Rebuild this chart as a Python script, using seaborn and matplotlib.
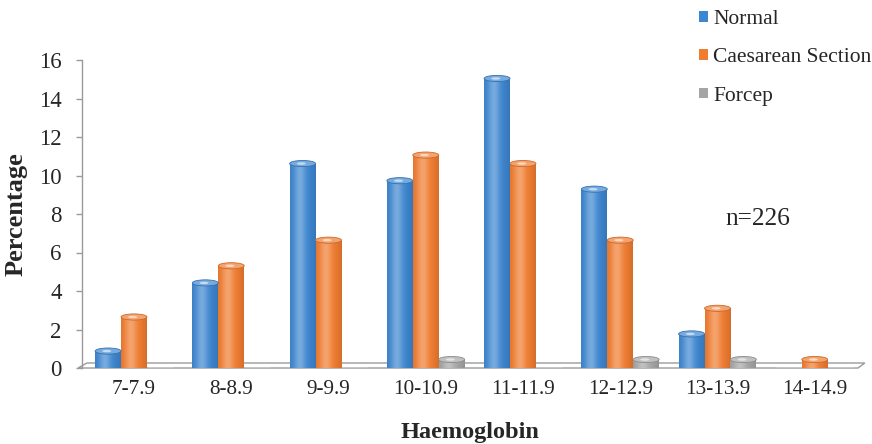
import numpy as np
import pandas as pd
import matplotlib
matplotlib.use("Agg")
import matplotlib.pyplot as plt
import matplotlib.colors as mcolors
from matplotlib.patches import Ellipse, Polygon, Patch
import seaborn as sns

# Haemoglobin bands and percentage of deliveries per mode (n=226)
categories = ["7-7.9", "8-8.9", "9-9.9", "10-10.9", "11-11.9", "12-12.9", "13-13.9", "14-14.9"]
normal = [0.88, 4.42, 10.62, 9.73, 15.04, 9.29, 1.77, 0.0]
caesarean = [2.65, 5.31, 6.64, 11.06, 10.62, 6.64, 3.10, 0.44]
forcep = [0.0, 0.0, 0.0, 0.44, 0.0, 0.44, 0.44, 0.0]
series_names = ["Normal", "Caesarean Section", "Forcep"]
yticks = [0, 2, 4, 6, 8, 10, 12, 14, 16]

colors = {"Normal": "#3d86d0", "Caesarean Section": "#f07c30", "Forcep": "#a5a5a5"}

df = pd.DataFrame({
    "Haemoglobin": categories * 3,
    "Percentage": normal + caesarean + forcep,
    "Mode": [s for s in series_names for _ in categories],
})

sns.set_style("white")
plt.rcParams["font.family"] = ["Liberation Serif", "DejaVu Serif"]

W, H = 872, 444
fig = plt.figure(figsize=(W / 100, H / 100), dpi=100)
ax = fig.add_axes([82 / W, 1 - 368 / H, 776 / W, 308 / H])

sns.barplot(data=df, x="Haemoglobin", y="Percentage", hue="Mode",
            hue_order=series_names, palette=colors, order=categories,
            width=0.8, saturation=1, ax=ax, legend=False, zorder=3)

ax.set_xlim(-0.535, 7.445)
ax.set_ylim(0, 16)

# cylinder-like shading on each bar
def shade(c):
    rgb = np.array(mcolors.to_rgb(c))
    xs = np.linspace(0, 1, 64)
    light = np.exp(-((xs - 0.38) / 0.22) ** 2) * 0.3
    dark = (np.abs(xs - 0.42) ** 2.5) * 0.9
    cols = [np.clip(rgb + (1 - rgb) * l - rgb * d * 0.5, 0, 1) for l, d in zip(light, dark)]
    return np.array(cols)[None, :, :]

cap_h = 0.32
for patch in list(ax.patches):
    h = patch.get_height()
    if h <= 0.01:
        continue
    x0 = patch.get_x()
    w = patch.get_width()
    fc = mcolors.to_hex(patch.get_facecolor())
    patch.set_edgecolor("none")
    img = ax.imshow(shade(fc), extent=[x0, x0 + w, 0, h], aspect="auto",
                    zorder=3.5, interpolation="bilinear")
    img.set_clip_path(patch)
    rgb = np.array(mcolors.to_rgb(fc))
    ax.add_patch(Ellipse((x0 + w / 2, h), w, cap_h, facecolor=rgb + (1 - rgb) * 0.3,
                         edgecolor=rgb * 0.85, linewidth=0.6, zorder=4))
    ax.add_patch(Ellipse((x0 + w * 0.45, h), w * 0.35, cap_h * 0.4,
                         facecolor=rgb + (1 - rgb) * 0.7, edgecolor="none", zorder=4.1))

# thin floor plane under the bars
xl, xr = ax.get_xlim()
floor = Polygon([(xl - 0.04, 0), (xr, 0), (xr + 0.07, 0.26), (xl + 0.05, 0.26)],
                closed=True, facecolor="white", edgecolor="#9a9a9a",
                linewidth=1.0, zorder=2, clip_on=False)
ax.add_patch(floor)

ax.set_yticks(yticks)
ax.set_yticklabels([str(t) for t in yticks], fontsize=16.5)
ax.tick_params(axis="y", length=4, width=1, color="#9a9a9a", pad=10.5, left=True)
ax.tick_params(axis="x", length=0, pad=9, labelsize=15.3)

for side in ["top", "right", "bottom"]:
    ax.spines[side].set_visible(False)
ax.spines["left"].set_color("#9a9a9a")
ax.spines["left"].set_linewidth(1.0)

ax.set_ylabel("Percentage", fontsize=19, fontweight="bold", labelpad=8)
ax.set_xlabel("Haemoglobin", fontsize=17.5, fontweight="bold", labelpad=16)

ax.text(6.41, 7.75, "n=226", fontsize=18.3, ha="center", va="center")

handles = [Patch(facecolor=colors[s], edgecolor="none") for s in series_names]
fig.legend(handles, series_names, loc="upper left",
           bbox_to_anchor=(699 / W, 1 - 10 / H), borderpad=0, borderaxespad=0,
           frameon=False, fontsize=15.5, handlelength=0.4, handleheight=0.4,
           handletextpad=0.25, labelspacing=0.9)

fig.savefig("out.png", dpi=100)
